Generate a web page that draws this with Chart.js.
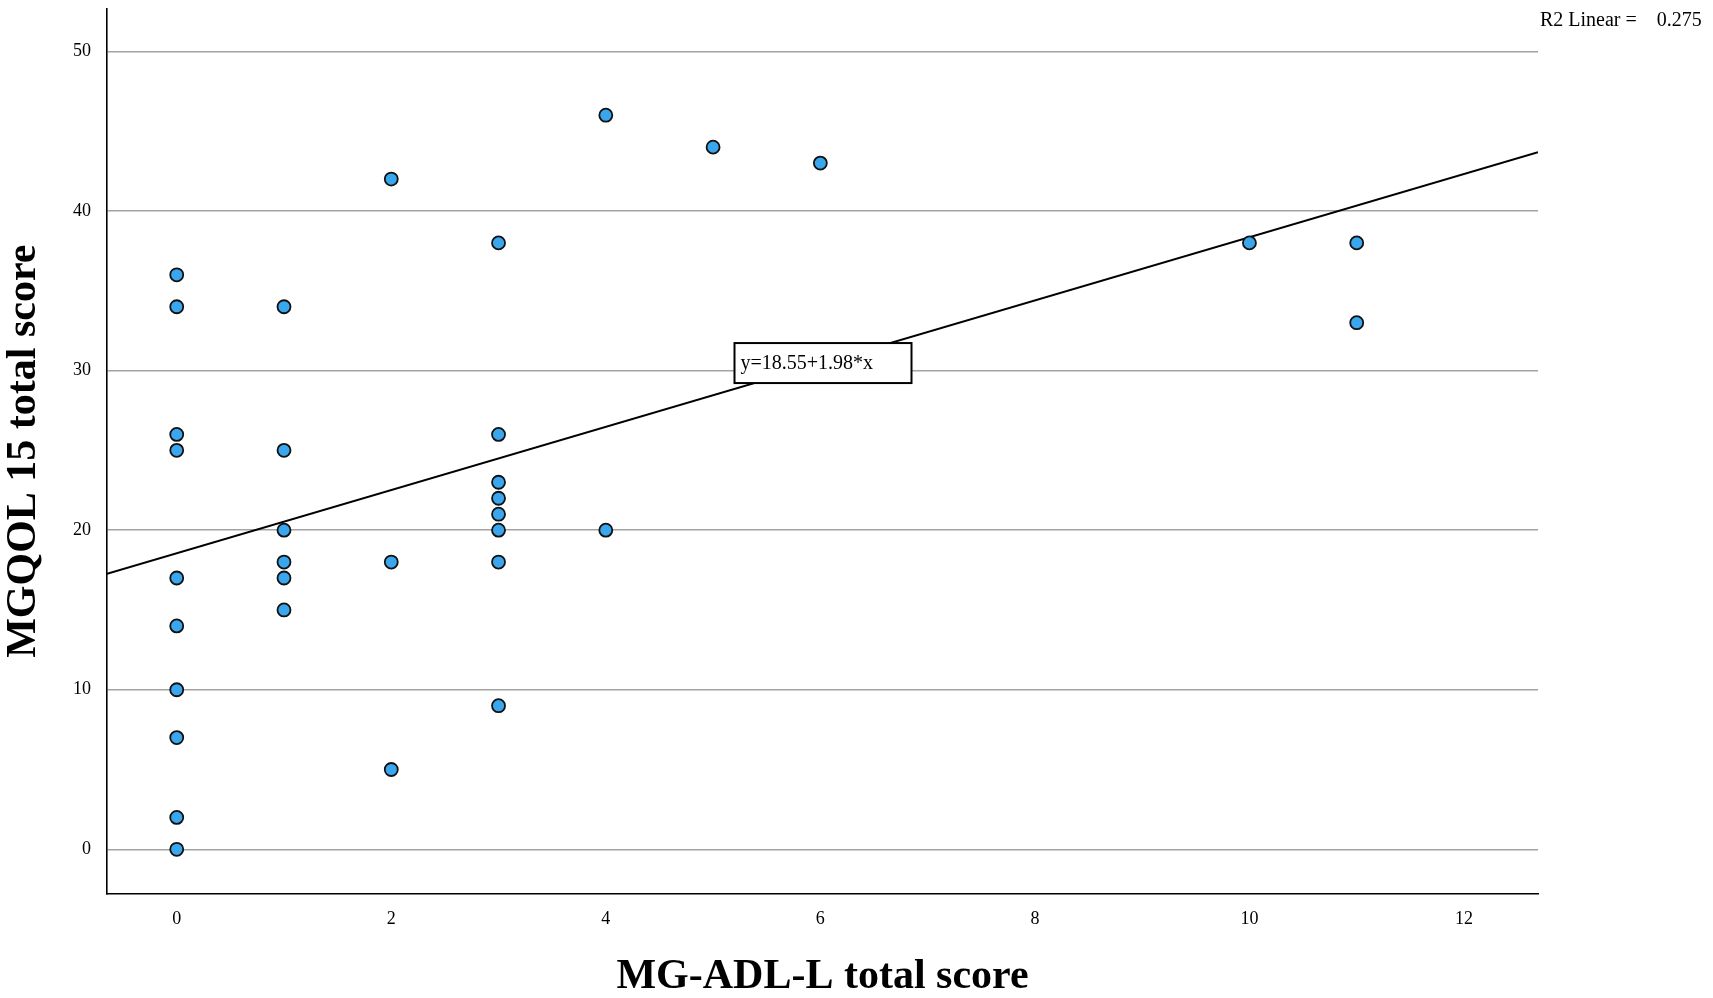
<!DOCTYPE html>
<html lang="en">
<head>
  <meta charset="utf-8">
  <script src="https://cdn.jsdelivr.net/npm/chart.js"></script>
  <style>
    body { margin: 0; background: #fff; }
    .wrap { position: relative; width: 1713px; height: 998px; }
  </style>
</head>
<body>
  <div class="wrap">
    <canvas id="scatterChart"></canvas>
  </div>

  <script>
    // puntos (MG-ADL-L vs MGQOL 15)
    var adlScores = [0, 0, 0, 0, 0, 0, 0, 0, 0, 0,
                     1, 1, 1, 1, 1, 1,
                     2, 2, 2,
                     3, 3, 3, 3, 3, 3, 3, 3,
                     4, 4, 5, 6, 10, 11, 11];
    var qolScores = [36, 34, 26, 25, 17, 14, 10, 7, 2, 0,
                     34, 25, 20, 18, 17, 15,
                     42, 18, 5,
                     38, 26, 23, 22, 21, 20, 18, 9,
                     46, 20, 44, 43, 38, 38, 33];

    var fitX = [-0.65, 12.69];
    var fitY = [17.26, 43.68];

    var xTicks = [0, 2, 4, 6, 8, 10, 12];
    var yTicks = [0, 10, 20, 30, 40, 50];

    var equationText = 'y=18.55+1.98*x';
    var equationPos = [6.02, 30.47];
    var r2Text = 'R2 Linear =    0.275';

    var serif = "'Liberation Serif', 'Times New Roman', serif";

    var puntos = adlScores.map(function (x, i) {
      return { x: x, y: qolScores[i] };
    });
    var recta = fitX.map(function (x, i) {
      return { x: x, y: fitY[i] };
    });

    // etiqueta de la ecuacion y texto R2
    var anotaciones = {
      id: 'anotaciones',
      afterDatasetsDraw: function (chart) {
        var ctx = chart.ctx;
        var sx = chart.scales.x, sy = chart.scales.y;
        var px = sx.getPixelForValue(equationPos[0]);
        var py = sy.getPixelForValue(equationPos[1]);
        ctx.save();
        ctx.fillStyle = '#fff';
        ctx.strokeStyle = '#000';
        ctx.lineWidth = 2;
        ctx.fillRect(px - 88, py - 20, 177, 40);
        ctx.strokeRect(px - 88, py - 20, 177, 40);
        ctx.fillStyle = '#000';
        ctx.font = '20px ' + serif;
        ctx.textBaseline = 'middle';
        ctx.textAlign = 'left';
        ctx.fillText(equationText, px - 82, py + 1);
        ctx.font = '20px ' + serif;
        ctx.fillText(r2Text, 1540, 21);
        ctx.restore();
      }
    };

    var ctx = document.getElementById('scatterChart').getContext('2d');
    var scatterChart = new Chart(ctx, {
      type: 'scatter',
      data: {
        datasets: [{
          label: 'MGQOL',
          data: puntos,
          pointRadius: 6.5,
          pointHoverRadius: 6.5,
          backgroundColor: '#3aa6ee',
          borderColor: '#111',
          borderWidth: 1.8,
          order: 1
        }, {
          type: 'line',
          label: 'Linear',
          data: recta,
          borderColor: '#000',
          borderWidth: 2,
          pointRadius: 0,
          fill: false,
          order: 2
        }]
      },
      options: {
        responsive: true,
        maintainAspectRatio: false,
        animation: false,
        layout: { padding: { top: 8, right: 175, left: 0, bottom: 0 } },
        plugins: {
          legend: { display: false },
          tooltip: { enabled: false }
        },
        scales: {
          x: {
            type: 'linear',
            min: -0.65,
            max: 12.69,
            afterBuildTicks: function (scale) {
              scale.ticks = xTicks.map(function (v) { return { value: v }; });
            },
            afterFit: function (scale) {
              scale.height = 104;
              scale.paddingLeft = 0;
              scale.paddingRight = 0;
            },
            grid: { display: false, drawTicks: false },
            border: { display: true, color: '#000', width: 1.6 },
            ticks: {
              padding: 14,
              color: '#000',
              font: { family: serif, size: 18 },
              maxRotation: 0
            },
            title: {
              display: true,
              text: 'MG-ADL-L total score',
              color: '#000',
              font: { family: serif, size: 42, weight: 'bold', lineHeight: 1 },
              padding: { top: 0, bottom: 0 }
            }
          },
          y: {
            type: 'linear',
            min: -2.8,
            max: 52.7,
            afterBuildTicks: function (scale) {
              scale.ticks = yTicks.map(function (v) { return { value: v }; });
            },
            afterFit: function (scale) {
              scale.width = 107;
              scale.paddingTop = 0;
              scale.paddingBottom = 0;
            },
            grid: { color: '#a3a3a3', lineWidth: 1.6, drawTicks: false },
            border: { display: true, color: '#000', width: 1.6 },
            ticks: {
              padding: 16,
              color: '#000',
              font: { family: serif, size: 18 }
            },
            title: {
              display: true,
              text: 'MGQOL 15 total score',
              color: '#000',
              font: { family: serif, size: 42, weight: 'bold', lineHeight: 1 },
              padding: { top: 3, bottom: 0 }
            }
          }
        }
      },
      plugins: [anotaciones]
    });
  </script>
</body>
</html>
